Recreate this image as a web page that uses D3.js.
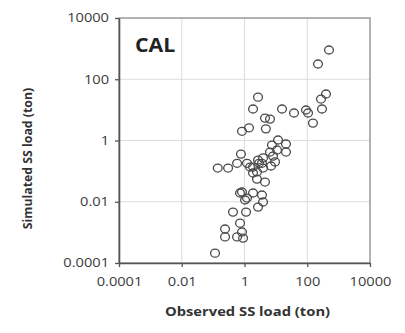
<!DOCTYPE html>
<html>
<head>
<meta charset="utf-8">
<script src="https://cdn.jsdelivr.net/npm/d3@7/dist/d3.min.js"></script>
<style>
  html, body { margin: 0; padding: 0; background: #fff; }
  svg { display: block; }
</style>
</head>
<body>
<svg id="chart" width="405" height="333"></svg>
<script>
// Observed vs simulated suspended-sediment load (ton), calibration period
const observed = [
  493, 220, 396, 274, 295, 152, 2.7, 1.87, 15.7, 37.8, 91, 106, 4.5, 6.5, 4.8, 0.83, 1.39,
  11.7, 7.5, 21, 21, 10.9, 6.5, 8.1, 3.9, 0.77, 0.58, 1.2, 0.14, 0.30, 1.87, 2.9, 2.7, 3.6,
  9.4, 7.0, 3.9, 1.5, 1.87, 2.5, 2.5, 4.5,
  0.83, 0.72, 1.2, 1.87, 3.6, 3.9, 2.7, 1.04, 0.43, 1.12, 0.72, 0.24, 0.24, 0.58, 0.83, 0.90, 0.115
];
const simulated = [
  902, 315, 33, 22.6, 10.7, 3.7, 26, 10.7, 10.7, 7.9, 9.9, 7.9, 5.4, 5.0, 2.4, 2.0, 2.6,
  1.04, 0.71, 0.77, 0.42, 0.49, 0.42, 0.31, 0.27, 0.36, 0.18, 0.18, 0.126, 0.126, 0.136, 0.18, 0.23, 0.18,
  0.20, 0.147, 0.126, 0.136, 0.087, 0.094, 0.055, 0.044,
  0.0208, 0.0193, 0.0132, 0.0193, 0.0166, 0.0098, 0.0067, 0.0114, 0.0046, 0.0046, 0.0020, 0.00129, 0.00071, 0.00071, 0.00103, 0.00065, 0.00021
];
const tickValues = [0.0001, 0.01, 1, 100, 10000];
const tickLabels = ["0.0001", "0.01", "1", "100", "10000"];
const gridValues = [0.01, 1, 100];
const panelLabel = "CAL";
const xTitle = "Observed SS load (ton)";
const yTitle = "Simulated SS load (ton)";

const margin = { left: 119, top: 18, right: 35, bottom: 70 };
const W = 405, H = 333;
const innerW = W - margin.left - margin.right;
const innerH = H - margin.top - margin.bottom;
const FONT = "'Open Sans', 'Liberation Sans', sans-serif";

// Widen horizontal labels a little (condensed-style glyphs drawn wide)
function widen(sel, k) {
  sel.each(function () {
    const w = this.getComputedTextLength();
    d3.select(this).attr("textLength", w * k).attr("lengthAdjust", "spacingAndGlyphs");
  });
}

const svg = d3.select("#chart");
const g = svg.append("g").attr("transform", `translate(${margin.left},${margin.top})`);

const x = d3.scaleLog().domain([0.0001, 10000]).range([0, innerW]);
const y = d3.scaleLog().domain([0.0001, 10000]).range([innerH, 0]);

// Grid lines
g.append("g").selectAll("line").data(gridValues).join("line")
  .attr("x1", d => x(d)).attr("x2", d => x(d))
  .attr("y1", 0).attr("y2", innerH)
  .attr("stroke", "#dcdcdc").attr("stroke-width", 1);
g.append("g").selectAll("line").data(gridValues).join("line")
  .attr("y1", d => y(d)).attr("y2", d => y(d))
  .attr("x1", 0).attr("x2", innerW)
  .attr("stroke", "#dcdcdc").attr("stroke-width", 1);

// Plot frame
g.append("rect")
  .attr("x", 0).attr("y", 0).attr("width", innerW).attr("height", innerH)
  .attr("fill", "none").attr("stroke", "#8a8a8a").attr("stroke-width", 1.3);

const fmt = d => tickLabels[tickValues.indexOf(d)];

const xAxis = g.append("g").attr("transform", `translate(0,${innerH})`)
  .call(d3.axisBottom(x).tickValues(tickValues).tickFormat(fmt).tickSizeInner(4).tickSizeOuter(0).tickPadding(10));
const yAxis = g.append("g")
  .call(d3.axisLeft(y).tickValues(tickValues).tickFormat(fmt).tickSizeInner(4).tickSizeOuter(0).tickPadding(6));

[xAxis, yAxis].forEach(a => {
  a.select(".domain").attr("stroke", "#555").attr("stroke-width", 1.6);
  a.selectAll(".tick line").attr("stroke", "#555").attr("stroke-width", 1.3);
  a.selectAll(".tick text")
    .attr("fill", "#3a3a3a")
    .style("font-family", FONT)
    .style("font-size", "12px")
    .call(widen, 1.22);
});

// Points
const pts = observed.map((v, i) => ({ o: v, s: simulated[i] }));
g.append("g").selectAll("ellipse").data(pts).join("ellipse")
  .attr("cx", d => x(d.o)).attr("cy", d => y(d.s))
  .attr("rx", 4.4).attr("ry", 4)
  .attr("fill", "none")
  .attr("stroke", "#4a4a4a")
  .attr("stroke-width", 1.3);

// Panel label
g.append("text")
  .attr("x", 16).attr("y", 34)
  .attr("fill", "#222")
  .style("font-family", FONT)
  .style("font-weight", "bold")
  .style("font-size", "19px")
  .text(panelLabel)
  .call(widen, 1.12);

// Axis titles
svg.append("text")
  .attr("x", margin.left + innerW / 2 + 3).attr("y", 316)
  .attr("text-anchor", "middle")
  .attr("fill", "#333")
  .style("font-family", FONT)
  .style("font-weight", "bold")
  .style("font-size", "12.3px")
  .text(xTitle)
  .call(widen, 1.2);

svg.append("text")
  .attr("transform", `translate(32,${margin.top + innerH / 2 + 18}) rotate(-90)`)
  .attr("text-anchor", "middle")
  .attr("fill", "#333")
  .style("font-family", FONT)
  .style("font-weight", "bold")
  .style("font-size", "12.3px")
  .text(yTitle);
</script>
</body>
</html>
